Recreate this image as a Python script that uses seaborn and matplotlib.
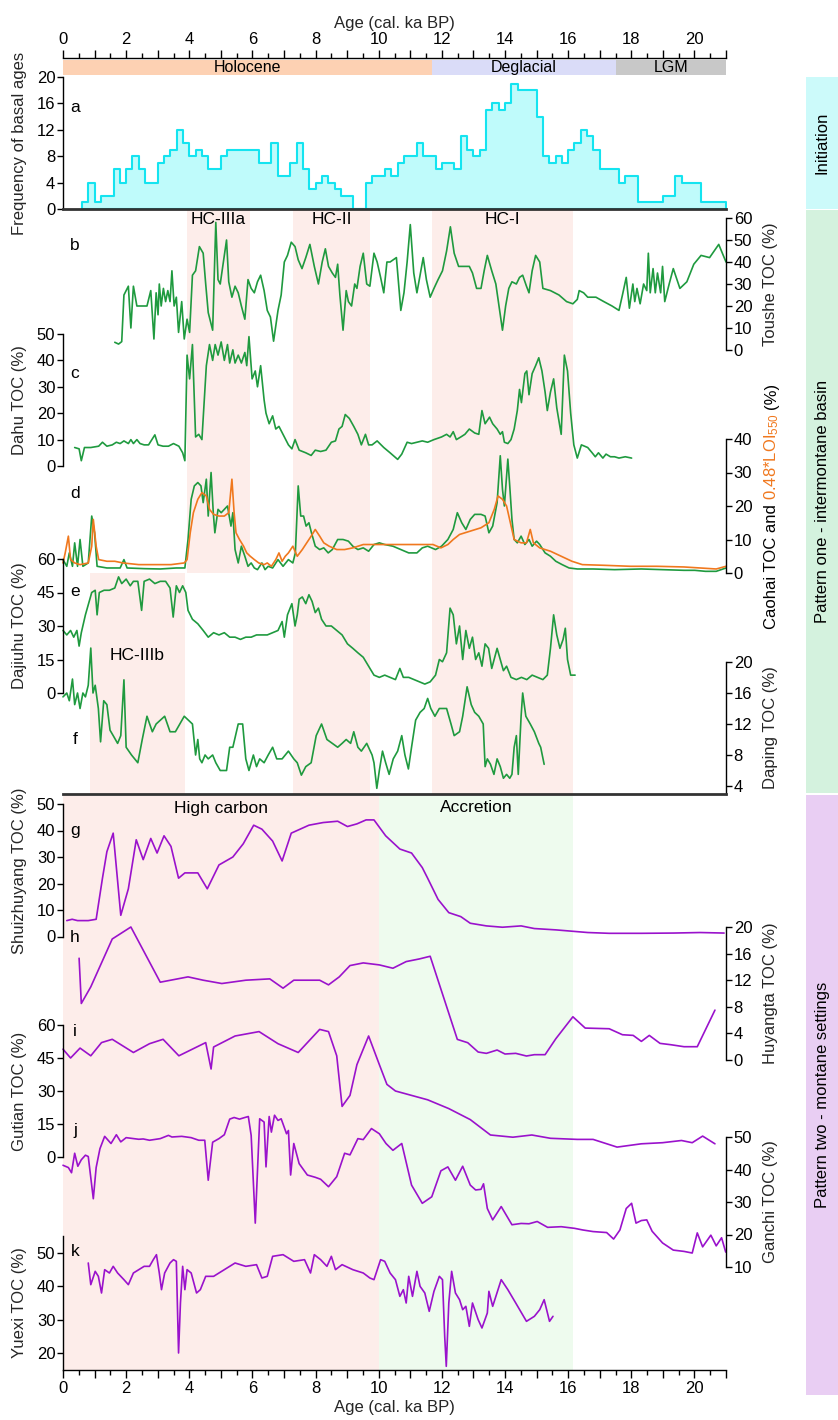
import matplotlib
matplotlib.use("Agg")
import matplotlib.pyplot as plt
from matplotlib import font_manager
from matplotlib.ticker import MultipleLocator, FuncFormatter
import numpy as np
import pandas as pd
import seaborn as sns

# ---------------------------------------------------------------- data
PERIOD_NAMES = ["Holocene", "Deglacial", "LGM"]
PERIOD_START = [0.0, 11.7, 17.5]
PERIOD_END = [11.7, 17.5, 21.0]

# basal-age histogram (0.2 ka bins, start of each run of equal counts)
HIST_START = [0.6, 0.8, 1.0, 1.2, 1.6, 1.8, 2.0, 2.2, 2.4, 2.6,
              3.0, 3.2, 3.4, 3.6, 3.8, 4.0, 4.2, 4.4, 4.6, 5.0,
              5.2, 6.2, 6.6, 6.8, 7.2, 7.4, 7.6, 7.8, 8.0, 8.2,
              8.4, 8.6, 8.8, 9.2, 9.6, 9.8, 10.2, 10.4, 10.6, 10.8,
              11.2, 11.4, 11.8, 12.0, 12.4, 12.6, 12.8, 13.0, 13.2, 13.4,
              13.6, 13.8, 14.0, 14.2, 14.4, 15.0, 15.2, 15.4, 15.6, 15.8,
              16.0, 16.2, 16.4, 16.6, 16.8, 17.0, 17.6, 17.8, 18.2, 19.0,
              19.4, 19.6, 20.2]
HIST_COUNT = [1, 4, 1, 2, 6, 4, 6, 8, 6, 4,
              7, 8, 9, 12, 10, 8, 9, 8, 6, 8,
              9, 7, 10, 5, 7, 10, 6, 3, 4, 5,
              4, 3, 2, 0, 4, 5, 6, 5, 7, 8,
              10, 8, 6, 7, 6, 11, 9, 8, 9, 15,
              16, 15, 16, 19, 18, 14, 8, 7, 8, 7,
              9, 10, 12, 11, 9, 6, 4, 5, 1, 2,
              5, 4, 1]
HIST_END = 21.0

TOUSHE_AGE = [1.64, 1.76, 1.86, 1.93, 2.07, 2.15, 2.23, 2.34, 2.66, 2.78,
              2.88, 2.95, 3.01, 3.05, 3.11, 3.18, 3.25, 3.32, 3.39, 3.45,
              3.52, 3.59, 3.66, 3.76, 3.84, 3.93, 4.01, 4.10, 4.20, 4.32,
              4.44, 4.52, 4.60, 4.74, 4.84, 4.91, 4.98, 5.08, 5.18, 5.25,
              5.35, 5.45, 5.55, 5.65, 5.76, 5.86, 5.96, 6.06, 6.16, 6.26,
              6.37, 6.47, 6.57, 6.67, 6.81, 6.91, 7.01, 7.11, 7.23, 7.35,
              7.45, 7.57, 7.69, 7.82, 7.96, 8.09, 8.21, 8.31, 8.41, 8.53,
              8.63, 8.70, 8.77, 8.87, 8.97, 9.04, 9.14, 9.24, 9.31, 9.41,
              9.51, 9.62, 9.72, 9.85, 9.95, 10.06, 10.16, 10.26, 10.36, 10.46,
              10.56, 10.70, 10.80, 10.90, 11.00, 11.11, 11.21, 11.31, 11.41, 11.51,
              11.63, 11.75, 11.88, 12.02, 12.15, 12.27, 12.39, 12.53, 12.66, 12.87,
              12.97, 13.10, 13.24, 13.34, 13.44, 13.58, 13.71, 13.81, 13.92, 14.02,
              14.12, 14.22, 14.36, 14.46, 14.56, 14.68, 14.76, 14.86, 14.97, 15.10,
              15.20, 15.44, 15.71, 15.95, 16.15, 16.29, 16.35, 16.49, 16.62, 16.88,
              17.13, 17.39, 17.61, 17.72, 17.84, 17.94, 18.05, 18.11, 18.18, 18.28,
              18.39, 18.49, 18.54, 18.60, 18.69, 18.76, 18.83, 18.93, 18.99, 19.06,
              19.20, 19.33, 19.54, 19.76, 19.98, 20.21, 20.48, 20.77, 21.0]
TOUSHE_TOC = [3.5, 2.7, 3.8, 25, 29, 10, 29, 20, 20, 27,
              5, 26, 16, 30, 20, 28, 22, 27, 22, 36,
              20, 24, 8, 22, 5, 14, 8, 34, 36, 47,
              44, 30, 17, 9, 58, 32, 30, 40, 50, 31,
              24, 29, 26, 20, 14, 32, 28, 26, 31, 34,
              27, 18, 15, 4, 18, 25, 40, 43, 49, 47,
              41, 37, 42, 48, 38, 30, 40, 46, 38, 35,
              33, 39, 25, 9, 27, 22, 20, 30, 28, 38,
              44, 30, 29, 44, 40, 33, 26, 40, 40, 41,
              42, 18, 26, 40, 57, 35, 26, 34, 42, 32,
              24, 28, 32, 36, 45, 56, 44, 38, 38, 38,
              35, 28, 28, 36, 43, 36, 30, 20, 9, 20,
              28, 31, 30, 33, 34, 29, 26, 36, 43, 40,
              28, 27, 25, 22, 21, 23, 27, 26, 24, 24,
              22, 20, 18, 25, 33, 19, 30, 22, 28, 21,
              30, 27, 44, 26, 37, 26, 35, 26, 38, 22,
              30, 37, 28, 31, 39, 43, 42, 48, 40]

DAHU_AGE = [0.37, 0.51, 0.58, 0.68, 0.88, 1.13, 1.25, 1.39, 1.56, 1.69,
            1.81, 1.93, 2.07, 2.15, 2.23, 2.34, 2.44, 2.57, 2.71, 2.91,
            3.01, 3.17, 3.34, 3.50, 3.67, 3.79, 3.86, 3.93, 4.01, 4.10,
            4.20, 4.30, 4.40, 4.54, 4.64, 4.74, 4.82, 4.91, 5.01, 5.11,
            5.21, 5.28, 5.38, 5.45, 5.55, 5.65, 5.76, 5.82, 5.89, 5.99,
            6.09, 6.16, 6.26, 6.37, 6.43, 6.53, 6.64, 6.74, 6.84, 6.97,
            7.14, 7.25, 7.35, 7.48, 7.69, 7.86, 7.99, 8.16, 8.33, 8.50,
            8.63, 8.74, 8.84, 8.94, 9.07, 9.21, 9.34, 9.45, 9.58, 9.68,
            9.79, 9.95, 10.16, 10.36, 10.60, 10.73, 10.90, 11.04, 11.21, 11.38,
            11.55, 11.75, 11.99, 12.15, 12.26, 12.36, 12.46, 12.60, 12.73, 12.87,
            13.04, 13.17, 13.27, 13.37, 13.51, 13.61, 13.75, 13.85, 13.92, 13.98,
            14.09, 14.19, 14.29, 14.39, 14.46, 14.52, 14.63, 14.69, 14.76, 14.86,
            14.97, 15.07, 15.17, 15.27, 15.34, 15.44, 15.54, 15.64, 15.78, 15.88,
            15.98, 16.08, 16.18, 16.29, 16.42, 16.62, 16.76, 16.86, 16.96, 17.10,
            17.20, 17.34, 17.47, 17.61, 17.81, 18.01]
DAHU_TOC = [7, 6.5, 2, 7, 7, 7.5, 9, 7.5, 8, 9,
            8.5, 9.5, 8.5, 10, 8.5, 10, 8.5, 8, 8, 11.8,
            8, 7.5, 7.5, 8.5, 7.5, 5, 2, 42, 33, 46,
            11, 12, 10, 38, 46, 40, 46, 42, 47, 40,
            46, 39, 44, 39, 42, 39, 43, 38, 49, 33,
            36, 30, 38, 25, 20, 16, 19, 14, 15, 12,
            8, 6.5, 10, 6, 5, 4, 6, 5.5, 6, 9,
            9.5, 14, 15, 19.5, 18, 15, 12, 8, 12, 8,
            8, 9.5, 7, 5, 2.5, 4.5, 9, 8.5, 9, 9.5,
            9, 10, 11, 12, 11, 13, 10, 11, 12, 14,
            12.5, 12, 21, 16, 18.5, 16, 14, 12, 13, 9,
            8.5, 10, 14, 21, 29, 24, 35, 36, 27, 35,
            38, 41, 36, 28, 21, 28, 33, 22, 12, 42,
            36, 20, 8, 3, 8, 7, 5, 3.5, 5, 3,
            4.5, 3.5, 3.5, 3, 3.5, 3]

CAOHAI_AGE = [0.0, 0.12, 0.2, 0.3, 0.37, 0.46, 0.54, 0.63, 0.8, 0.91,
              1.0, 1.08, 1.39, 1.81, 1.93, 2.03, 2.57, 3.08, 3.59, 3.86,
              3.96, 4.06, 4.16, 4.27, 4.37, 4.44, 4.54, 4.6, 4.69, 4.76,
              4.81, 4.91, 5.01, 5.11, 5.21, 5.32, 5.38, 5.45, 5.55, 5.65,
              5.76, 5.86, 5.96, 6.06, 6.16, 6.3, 6.4, 6.5, 6.64, 6.81,
              6.97, 7.14, 7.28, 7.36, 7.45, 7.53, 7.62, 7.7, 7.79, 7.87,
              7.99, 8.13, 8.26, 8.4, 8.53, 8.7, 8.87, 9.04, 9.18, 9.34,
              9.51, 9.68, 9.85, 10.02, 10.19, 10.45, 10.7, 10.95, 11.21, 11.38,
              11.55, 11.8, 11.99, 12.19, 12.36, 12.49, 12.63, 12.76, 12.9, 13.04,
              13.24, 13.37, 13.49, 13.61, 13.75, 13.85, 13.92, 13.98, 14.09, 14.15,
              14.22, 14.29, 14.39, 14.51, 14.63, 14.76, 14.86, 15.0, 15.1, 15.27,
              15.44, 15.61, 15.81, 16.03, 16.29, 16.79, 17.47, 18.32, 18.99, 19.67,
              20.01, 20.35, 20.69, 21.0]
CAOHAI_TOC = [4, 2, 6, 2, 9, 2, 10, 2, 3, 17,
              12, 2, 1.5, 1.5, 4, 1.5, 1.3, 1.2, 1.5, 1.5,
              10, 22, 26, 27, 26, 21, 28, 17, 30, 18,
              12, 19, 18, 19, 20, 14, 18, 7, 3, 8,
              5, 2, 3, 1.5, 1, 3, 1, 2, 1.5, 4,
              2, 4, 3, 6, 26, 17, 17, 14, 15, 12,
              8, 7, 7.5, 6, 7, 10, 10, 9.5, 8, 7,
              7.5, 6.5, 8.5, 9, 8.5, 8, 7, 6, 6, 7.5,
              8, 7, 8, 10, 13, 18, 15, 13, 16, 17.5,
              17.5, 17, 12, 14, 21, 35, 25, 20, 34, 26,
              16, 10, 9, 11, 8.5, 10, 8, 9.5, 8.5, 6,
              5, 3.5, 2.5, 1.5, 1.2, 1.2, 1.0, 1.2, 1.0, 0.8,
              0.8, 0.5, 0.5, 1.5]

CAOHAI_LOI_AGE = [0.0, 0.07, 0.17, 0.24, 0.37, 0.54, 0.8, 0.91, 0.96, 1.05,
                  1.13, 1.39, 1.64, 1.9, 2.4, 2.91, 3.42, 3.84, 3.93, 4.03,
                  4.13, 4.27, 4.4, 4.54, 4.64, 4.77, 4.94, 5.11, 5.25, 5.35,
                  5.42, 5.48, 5.59, 5.72, 5.82, 5.93, 6.06, 6.2, 6.37, 6.47,
                  6.6, 6.74, 6.84, 6.94, 7.04, 7.14, 7.28, 7.42, 7.58, 7.72,
                  7.86, 7.99, 8.13, 8.26, 8.43, 8.67, 8.92, 9.18, 9.51, 9.85,
                  10.36, 10.87, 11.38, 11.72, 11.97, 12.19, 12.36, 12.56, 12.9, 13.24,
                  13.49, 13.66, 13.78, 13.92, 14.05, 14.17, 14.29, 14.51, 14.68, 14.8,
                  14.9, 15.1, 15.44, 15.78, 16.12, 16.45, 17.13, 17.98, 18.82, 19.67,
                  20.18, 20.69, 21.0]
CAOHAI_LOI = [3, 6, 11, 4, 3, 2.5, 3, 8, 16, 8,
              4, 3.5, 3.5, 3, 2.5, 2.5, 2.5, 3, 4, 12,
              18, 22, 24, 23, 19, 17.5, 17, 17, 18, 28,
              18, 12, 10, 8, 6, 5, 4, 3, 2.5, 3,
              2, 4, 6, 3.5, 5, 6, 8, 5, 7, 9,
              11, 13, 11, 9, 8, 7, 7, 7.5, 8.5, 8.5,
              8.5, 8.5, 8.5, 8.5, 7.5, 8.5, 10, 11.5, 12.5, 13.5,
              15, 19, 23, 22, 20, 15, 10, 9, 9, 13,
              9, 7.5, 6.5, 5, 3.5, 2.5, 2.3, 2.0, 2.0, 1.8,
              1.5, 1.2, 2]

DAJIUHU_AGE = [0.0, 0.12, 0.24, 0.34, 0.44, 0.51, 0.58, 0.71, 0.85, 0.91,
               1.02, 1.08, 1.15, 1.3, 1.47, 1.64, 1.76, 1.86, 2.0, 2.13,
               2.23, 2.37, 2.49, 2.57, 2.74, 2.91, 3.08, 3.25, 3.39, 3.49,
               3.59, 3.69, 3.79, 3.89, 3.96, 4.1, 4.27, 4.44, 4.6, 4.77,
               4.94, 5.11, 5.28, 5.45, 5.62, 5.79, 5.96, 6.13, 6.3, 6.47,
               6.64, 6.81, 6.94, 7.01, 7.11, 7.25, 7.35, 7.42, 7.48, 7.58,
               7.69, 7.79, 7.89, 7.99, 8.09, 8.19, 8.33, 8.5, 8.67, 8.84,
               9.01, 9.18, 9.34, 9.51, 9.68, 9.85, 10.02, 10.19, 10.36, 10.53,
               10.67, 10.78, 10.95, 11.12, 11.29, 11.46, 11.63, 11.8, 11.92, 12.02,
               12.15, 12.26, 12.36, 12.46, 12.56, 12.66, 12.76, 12.87, 12.97, 13.07,
               13.17, 13.27, 13.37, 13.48, 13.58, 13.75, 13.85, 13.95, 14.05, 14.19,
               14.36, 14.52, 14.69, 14.86, 15.03, 15.2, 15.34, 15.44, 15.54, 15.64,
               15.74, 15.84, 15.91, 15.98, 16.08, 16.22]
DAJIUHU_TOC = [28, 26, 28, 25, 28, 21, 27, 35, 42, 45,
               46, 35, 45, 46, 46, 47, 52, 49, 51, 48,
               50, 50, 37, 50, 51, 49, 50, 50, 47, 34,
               48, 45, 48, 45, 37, 33, 31, 28, 25, 27,
               26, 27, 25, 25, 24, 25, 25, 26, 26, 26,
               27, 28, 32, 25, 35, 40, 30, 35, 42, 43,
               40, 44, 41, 36, 38, 33, 30, 30, 28, 26,
               22, 20, 18, 16, 12, 8, 7, 8, 7, 6,
               11, 7, 7, 6, 5, 4, 5, 8, 15, 14,
               18, 38, 35, 22, 30, 15, 28, 20, 25, 15,
               18, 12, 22, 20, 11, 20, 15, 10, 12, 7,
               6, 7, 6, 8, 7, 6, 8, 20, 35, 26,
               20, 24, 29, 15, 8, 8]

DAPING_AGE = [0.0, 0.12, 0.2, 0.3, 0.37, 0.46, 0.54, 0.63, 0.71, 0.8,
              0.88, 0.95, 1.02, 1.12, 1.19, 1.29, 1.39, 1.49, 1.59, 1.73,
              1.83, 1.93, 2.0, 2.17, 2.37, 2.51, 2.66, 2.83, 2.95, 3.22,
              3.39, 3.56, 3.84, 4.1, 4.2, 4.27, 4.33, 4.4, 4.5, 4.6,
              4.74, 4.84, 4.98, 5.18, 5.28, 5.38, 5.55, 5.69, 5.79, 5.89,
              6.03, 6.13, 6.23, 6.37, 6.5, 6.64, 6.77, 6.94, 7.14, 7.31,
              7.42, 7.55, 7.69, 7.86, 8.02, 8.19, 8.36, 8.53, 8.7, 8.84,
              8.97, 9.11, 9.21, 9.34, 9.45, 9.62, 9.79, 9.85, 9.94, 10.02,
              10.12, 10.22, 10.33, 10.46, 10.6, 10.73, 10.83, 10.94, 11.04, 11.17,
              11.31, 11.44, 11.55, 11.65, 11.78, 11.92, 12.15, 12.29, 12.39, 12.56,
              12.66, 12.8, 12.93, 13.04, 13.17, 13.31, 13.37, 13.44, 13.54, 13.65,
              13.75, 13.85, 13.95, 14.05, 14.15, 14.22, 14.29, 14.36, 14.42, 14.51,
              14.56, 14.66, 14.8, 14.93, 15.07, 15.13, 15.24]
DAPING_TOC = [15.5, 16, 15, 17.8, 14.5, 16, 14, 16, 15.5, 17,
              21.8, 16, 17, 14, 9.7, 15, 14.5, 11.2, 10.5, 9.5,
              10.5, 17.7, 9, 8, 7, 10, 13, 11, 12, 13,
              11, 11, 13, 12, 8, 10, 7.5, 7, 8, 7.5,
              8, 7, 6, 6, 9, 9, 12, 12, 7.5, 6,
              8, 6.5, 7.5, 7, 8, 9, 7.5, 7.5, 8.5, 7.5,
              7, 5.4, 6.5, 7, 10.5, 12, 10, 9.5, 9, 9.5,
              10, 9.5, 11, 9, 8.5, 9.5, 8, 7, 3.7, 6,
              8.5, 7, 5.5, 7.5, 8.5, 10.5, 8, 6.2, 9, 12.5,
              13.5, 14, 15.3, 14, 13, 14, 14, 12, 10.5, 11,
              13, 16.8, 14.5, 13.5, 13, 12, 6.5, 7.5, 6.8, 5.5,
              7.5, 6.5, 5, 5.5, 5, 5.5, 9, 10.5, 5.5, 13,
              16, 13, 12, 11, 9.5, 9, 6.8]

# pattern two (montane settings) records
SHUIZHUYANG_AGE = [0.12, 0.29, 0.46, 0.8, 1.05, 1.25, 1.39, 1.59, 1.83, 2.07,
                   2.32, 2.54, 2.78, 2.98, 3.2, 3.42, 3.66, 3.86, 4.27, 4.57,
                   4.94, 5.38, 5.71, 6.04, 6.3, 6.64, 6.94, 7.23, 7.79, 8.24,
                   8.7, 9.01, 9.31, 9.6, 9.85, 10.22, 10.67, 11.04, 11.38, 11.55,
                   11.88, 12.22, 12.6, 12.9, 13.41, 13.92, 14.51, 14.93, 15.61, 16.62,
                   17.3, 18.32, 19.33, 20.18, 20.94]
SHUIZHUYANG_TOC = [6, 6.5, 6, 6, 6.5, 22, 32, 39, 8, 18,
                   36.5, 29, 37, 31.5, 38, 34, 22, 24, 24, 18,
                   27, 30, 35, 42, 40.5, 36, 28.5, 39, 42, 43,
                   43.5, 41.5, 42.5, 44, 44, 38, 33, 31.5, 26, 22,
                   14, 9, 7.5, 5, 4, 3.5, 4, 3, 2.5, 1.5,
                   1.2, 1.2, 1.3, 1.5, 1.3]

HUYANGTA_AGE = [0.51, 0.58, 0.88, 1.56, 2.15, 3.08, 3.96, 4.44, 5.03, 5.79,
                6.55, 6.97, 7.31, 8.13, 8.41, 8.75, 9.09, 9.51, 10.02, 10.45,
                10.87, 11.29, 11.63, 12.49, 12.82, 13.15, 13.41, 13.75, 14.0,
                14.34, 14.68, 14.93, 15.27, 15.61, 16.15, 16.54, 17.3, 17.72, 18.06,
                18.32, 18.57, 18.91, 19.25, 19.67, 20.09, 20.65]
HUYANGTA_TOC = [15.3, 8.5, 11, 18.2, 20, 11.7, 12.5, 12, 11.5, 12,
                12.2, 10.8, 12, 12, 11.3, 12.5, 14.2, 14.6, 14.3, 13.8,
                14.8, 15.2, 15.6, 3.1, 2.6, 1.2, 1.0, 1.5, 0.9,
                1.0, 0.6, 0.8, 0.8, 3.2, 6.5, 4.8, 4.7, 3.8, 3.7,
                2.8, 3.7, 2.5, 2.3, 2, 2, 7.5]

GUTIAN_AGE = [0.0, 0.24, 0.54, 0.88, 1.22, 1.56, 2.23, 2.74, 3.17, 3.67,
              4.52, 4.69, 4.77, 5.45, 6.21, 6.81, 7.45, 8.13, 8.41, 8.67,
              8.84, 9.09, 9.31, 9.68, 10.02, 10.26, 10.53, 11.55, 12.22, 12.9,
              13.54, 14.25, 14.85, 15.44, 16.29, 16.79, 17.55, 18.32, 18.99, 19.59,
              19.93, 20.26, 20.65]
GUTIAN_TOC = [49, 45, 49.5, 46, 52, 53.5, 47.5, 51.5, 53.5, 46,
              52, 40, 50, 55, 57, 51.5, 47.5, 58, 57, 46,
              23, 28, 42, 55, 42, 33, 30, 26, 22, 17,
              10, 9, 10, 8.5, 8, 8, 4.5, 6, 6.5, 7.5,
              6.5, 9.5, 6]

GANCHI_AGE = [0.0, 0.17, 0.27, 0.37, 0.47, 0.58, 0.71, 0.8, 0.96, 1.05,
              1.17, 1.32, 1.52, 1.69, 1.83, 2.0, 2.4, 2.54, 2.74, 3.08,
              3.34, 3.45, 3.76, 4.06, 4.3, 4.49, 4.6, 4.74, 4.94, 5.11,
              5.28, 5.42, 5.59, 5.76, 5.87, 5.96, 6.09, 6.23, 6.37, 6.43,
              6.53, 6.6, 6.7, 6.81, 6.91, 6.97, 7.08, 7.14, 7.21, 7.31,
              7.48, 7.74, 7.99, 8.16, 8.41, 8.67, 8.92, 9.09, 9.34, 9.51,
              9.77, 10.02, 10.23, 10.45, 10.73, 11.04, 11.38, 11.68, 11.97, 12.19,
              12.43, 12.66, 12.9, 13.07, 13.24, 13.32, 13.44, 13.61, 13.88, 14.22,
              14.51, 14.76, 15.02, 15.35, 15.78, 16.2, 16.46, 16.79, 17.22, 17.44,
              17.64, 17.84, 18.01, 18.15, 18.32, 18.49, 18.66, 18.99, 19.33, 19.67,
              19.93, 20.09, 20.26, 20.52, 20.69, 20.86, 20.99]
GANCHI_TOC = [41.3, 40.6, 39, 45, 41, 43, 44.4, 44, 31, 40.6,
              46.4, 50.2, 48, 50.7, 48.5, 49.8, 49.3, 49.4, 49, 49.5,
              50.5, 50, 50.2, 49.8, 49, 49, 36.7, 48.4, 49.5, 50.7,
              55.5, 56, 55.5, 56, 56.3, 50.5, 23.5, 55.6, 54.6, 40.8,
              56.3, 51.5, 56.7, 55.1, 55.6, 54, 51, 52, 38.3, 48,
              41.8, 38.3, 37.6, 37, 34.7, 37.8, 45, 44.5, 49.5, 49.2,
              52.6, 51, 48, 45.9, 48, 35.2, 29.6, 31.6, 39.6, 40.8,
              36.7, 41, 35.2, 33.7, 33.9, 35.6, 28, 24.5, 28.6, 23,
              23.4, 23.3, 24, 22.2, 22.4, 21.9, 21.4, 20.9, 20.6, 18.6,
              21.4, 28, 29.6, 23.5, 24.3, 24.5, 21, 17.4, 15.2, 14.8,
              14.3, 20.5, 16.2, 19.8, 16.5, 19, 14.6]

YUEXI_AGE = [0.8, 0.88, 1.02, 1.12, 1.22, 1.32, 1.47, 1.59, 1.73, 1.93,
             2.07, 2.23, 2.4, 2.57, 2.74, 2.86, 2.96, 3.05, 3.12, 3.22,
             3.39, 3.5, 3.59, 3.66, 3.72, 3.79, 3.86, 3.93, 4.06, 4.23,
             4.35, 4.52, 4.77, 5.11, 5.45, 5.79, 6.13, 6.3, 6.47, 6.64,
             6.97, 7.31, 7.65, 7.84, 7.96, 8.16, 8.36, 8.5, 8.63, 8.84,
             9.18, 9.51, 9.72, 9.85, 10.06, 10.19, 10.36, 10.53, 10.67, 10.78,
             10.87, 10.95, 11.07, 11.21, 11.31, 11.46, 11.6, 11.75, 11.92, 12.02,
             12.09, 12.14, 12.22, 12.31, 12.43, 12.56, 12.66, 12.76, 12.87, 12.97,
             13.15, 13.27, 13.44, 13.49, 13.61, 13.88, 14.09, 14.34, 14.68, 14.93,
             15.1, 15.24, 15.41, 15.52]
YUEXI_TOC = [47, 40.5, 44.5, 43, 38, 45, 44, 46, 44, 42,
             40.5, 44, 45, 46, 46, 48, 49.5, 44, 39, 44,
             47, 48, 47.5, 20, 35, 46, 39, 45, 44, 38,
             39, 43, 43, 45, 47, 46, 46.5, 42.5, 43, 49,
             49.5, 47.5, 48, 44, 49.5, 48, 46, 49, 45, 46.5,
             45, 44, 42.5, 42, 48, 47.5, 44, 42, 37, 39,
             35, 43, 37, 44.5, 40, 38, 32.5, 38.5, 43, 42,
             25, 16, 35, 44.5, 38, 36, 33, 34, 28, 35,
             30, 27.5, 32, 38.5, 34, 42, 39, 35, 29.5, 31,
             33, 36, 29.5, 31]

# shaded high-carbon intervals
HC_NAMES = ["HC-IIIa", "HC-II", "HC-I", "HC-IIIb"]
HC_START = [3.93, 7.30, 11.70, 0.85]
HC_END = [5.92, 9.73, 16.15, 3.85]
PHASE_NAMES = ["High carbon", "Accretion"]
PHASE_START = [0.0, 10.0]
PHASE_END = [10.0, 16.15]

STAGE_NAMES = ["Initiation", "Pattern one - intermontane basin",
               "Pattern two - montane settings"]

# ---------------------------------------------------------------- style
W, H = 838, 1420          # figure size in pixels
L, R = 63, 726            # left / right edge of the plotting column
XMAX = 21.0

GREEN = "#1F9A3F"
ORANGE = "#F0781E"
PURPLE = "#9A12CC"
CYAN_LINE = "#14E4F0"
CYAN_FILL = "#BFFBFB"
PINK = "#FDEDEA"
MINT = "#EEFBEE"
PERIOD_COLORS = ["#FDD1B3", "#DADCF8", "#C8C8C8"]
STAGE_COLORS = ["#CCFAFA", "#D4F2DE", "#E9CEF3"]
DARK = "#333333"

sns.set_theme(style="ticks")
_names = {f.name for f in font_manager.fontManager.ttflist}
FONT = "Liberation Sans" if "Liberation Sans" in _names else "DejaVu Sans"
plt.rcParams["font.family"] = [FONT, "DejaVu Sans"]
plt.rcParams["mathtext.fontset"] = "custom"
plt.rcParams["mathtext.rm"] = FONT
plt.rcParams["mathtext.it"] = FONT + ":italic"
plt.rcParams["mathtext.bf"] = FONT + ":bold"
plt.rcParams["axes.linewidth"] = 1.0
plt.rcParams["text.color"] = "black"

FS = 12

fig = plt.figure(figsize=(W / 100, H / 100), dpi=100)
fig.patch.set_facecolor("white")


def rect(top, bot, left=L, right=R):
    return [left / W, 1 - bot / H, (right - left) / W, (bot - top) / H]


def add_panel(v_top, y_top, v_bot, y_bot, ext_top=None, ext_bot=None):
    """Axes whose value v_top sits at pixel row y_top and v_bot at y_bot."""
    per = (y_bot - y_top) / (v_top - v_bot)
    t = y_top if ext_top is None else ext_top
    b = y_bot if ext_bot is None else ext_bot
    ax = fig.add_axes(rect(t, b))
    ax.set_facecolor("none")
    ax.set_xlim(0, XMAX)
    ax.set_ylim(v_bot - (b - y_bot) / per, v_top + (y_top - t) / per)
    return ax


def style_panel(ax, side, ticks, label):
    for s in ax.spines.values():
        s.set_visible(False)
    ax.spines[side].set_visible(True)
    ax.spines[side].set_color("black")
    ax.spines[side].set_linewidth(1.0)
    ax.yaxis.set_ticks_position(side)
    ax.yaxis.set_label_position(side)
    ax.set_yticks(ticks)
    ax.tick_params(axis="y", direction="out", length=4, width=1,
                   labelsize=FS, pad=1.5, colors="black")
    ax.set_xticks([])
    ax.set_xlabel("")
    ax.set_ylabel(label, fontsize=FS, va="center")
    x_px = 20 if side == "left" else 770
    ax.yaxis.set_label_coords((x_px - L) / (R - L), 0.5)
    ax.set_xlim(0, XMAX)
    ax.grid(False)


def draw_series(ax, ages, values, color):
    df = pd.DataFrame({"age": ages, "value": values})
    sns.lineplot(data=df, x="age", y="value", ax=ax, color=color,
                 linewidth=1.2, estimator=None, sort=False)
    for ln in ax.lines:
        ln.set_clip_on(False)


def age_axis(ax, where):
    ax.xaxis.set_ticks_position(where)
    ax.xaxis.set_label_position(where)
    ax.spines[where].set_visible(True)
    ax.spines[where].set_color("black")
    ax.xaxis.set_major_locator(MultipleLocator(1))
    ax.xaxis.set_minor_locator(MultipleLocator(0.5))
    ax.xaxis.set_major_formatter(FuncFormatter(
        lambda v, p: f"{int(round(v))}" if int(round(v)) % 2 == 0 else ""))
    ax.tick_params(axis="x", which="major", direction="out", length=6,
                   width=1, labelsize=FS, pad=2, colors="black")
    ax.tick_params(axis="x", which="minor", direction="out", length=3.5,
                   width=1, colors="black")
    ax.set_xlim(0, XMAX)
    ax.set_xlabel("Age (cal. ka BP)", fontsize=FS, labelpad=3)


# ---------------------------------------------------------------- shading
ax_bg = fig.add_axes(rect(0, H))
ax_bg.set_xlim(0, XMAX)
ax_bg.set_ylim(H, 0)
ax_bg.axis("off")

HC_ROWS = [(210, 573), (210, 794), (210, 794), (573, 794)]
HC_LABEL_ROW = [219, 219, 219, 656]
for name, s, e, (top, bot), ly in zip(HC_NAMES, HC_START, HC_END, HC_ROWS, HC_LABEL_ROW):
    ax_bg.fill_between([s, e], top, bot, color=PINK, lw=0)
    ax_bg.text((s + e) / 2, ly, name, ha="center", va="center", fontsize=12.5)

for name, s, e, c in zip(PHASE_NAMES, PHASE_START, PHASE_END, [PINK, MINT]):
    ax_bg.fill_between([s, e], 796, 1370, color=c, lw=0)
    ax_bg.text((s + e) / 2, 808, name, ha="center", va="center", fontsize=12.5)

LETTER_ROWS = [108, 246, 373, 493, 592, 740, 830, 938, 1032, 1131, 1251]
for letter, row in zip("abcdefghijk", LETTER_ROWS):
    ax_bg.text(0.38, row, letter, ha="center", va="center", fontsize=12.5)

# ---------------------------------------------------------------- top age axis + periods
ax_top = fig.add_axes(rect(58, 75))
ax_top.set_facecolor("none")
ax_top.barh([0.44] * 3, np.subtract(PERIOD_END, PERIOD_START), left=PERIOD_START,
            height=0.88, color=PERIOD_COLORS, linewidth=0)
for name, s, e in zip(PERIOD_NAMES, PERIOD_START, PERIOD_END):
    ax_top.text((s + e) / 2, 0.44, name, ha="center", va="center", fontsize=11.5)
for s in ax_top.spines.values():
    s.set_visible(False)
ax_top.set_ylim(0, 1)
ax_top.set_yticks([])
age_axis(ax_top, "top")

# ---------------------------------------------------------------- a: basal ages
ax_a = add_panel(20, 77, 0, 209)
sns.histplot(x=HIST_START, weights=HIST_COUNT, bins=HIST_START + [HIST_END],
             element="step", fill=True, color=CYAN_LINE, alpha=1, linewidth=1.5,
             ax=ax_a)
for coll in ax_a.collections:
    coll.set_facecolor(CYAN_FILL)
    coll.set_edgecolor(CYAN_LINE)
style_panel(ax_a, "left", [0, 4, 8, 12, 16, 20], "Frequency of basal ages")
ax_a.set_ylim(0, 20)
ax_a.spines["bottom"].set_visible(True)
ax_a.spines["bottom"].set_linewidth(2)
ax_a.spines["bottom"].set_color(DARK)

# ---------------------------------------------------------------- b-f: intermontane basin
ax_b = add_panel(60, 218, 0, 350)
draw_series(ax_b, TOUSHE_AGE, TOUSHE_TOC, GREEN)
style_panel(ax_b, "right", range(0, 61, 10), "Toushe TOC (%)")

ax_c = add_panel(50, 334, 0, 466)
draw_series(ax_c, DAHU_AGE, DAHU_TOC, GREEN)
style_panel(ax_c, "left", range(0, 51, 10), "Dahu TOC (%)")

ax_d = add_panel(40, 439, 0, 573)
draw_series(ax_d, CAOHAI_AGE, CAOHAI_TOC, GREEN)
draw_series(ax_d, CAOHAI_LOI_AGE, CAOHAI_LOI, ORANGE)
style_panel(ax_d, "right", range(0, 41, 10), "")

ax_e = add_panel(60, 559, 0, 693)
draw_series(ax_e, DAJIUHU_AGE, DAJIUHU_TOC, GREEN)
style_panel(ax_e, "left", range(0, 61, 15), "Dajiuhu TOC (%)")

ax_f = add_panel(20, 662, 4, 786, ext_bot=794)
draw_series(ax_f, DAPING_AGE, DAPING_TOC, GREEN)
style_panel(ax_f, "right", range(4, 21, 4), "Daping TOC (%)")
ax_f.spines["bottom"].set_visible(True)
ax_f.spines["bottom"].set_linewidth(2)
ax_f.spines["bottom"].set_color(DARK)

# ---------------------------------------------------------------- g-k: montane settings
ax_g = add_panel(50, 804, 0, 936.5)
draw_series(ax_g, SHUIZHUYANG_AGE, SHUIZHUYANG_TOC, PURPLE)
style_panel(ax_g, "left", range(0, 51, 10), "Shuizhuyang TOC (%)")

ax_h = add_panel(20, 927, 0, 1060)
draw_series(ax_h, HUYANGTA_AGE, HUYANGTA_TOC, PURPLE)
style_panel(ax_h, "right", range(0, 21, 4), "Huyangta TOC (%)")

ax_i = add_panel(60, 1025, 0, 1157)
draw_series(ax_i, GUTIAN_AGE, GUTIAN_TOC, PURPLE)
style_panel(ax_i, "left", range(0, 61, 15), "Gutian TOC (%)")

ax_j = add_panel(50, 1137, 10, 1267)
draw_series(ax_j, GANCHI_AGE, GANCHI_TOC, PURPLE)
style_panel(ax_j, "right", range(10, 51, 10), "Ganchi TOC (%)")

ax_k = add_panel(50, 1253, 20, 1353, ext_top=1236, ext_bot=1370)
draw_series(ax_k, YUEXI_AGE, YUEXI_TOC, PURPLE)
style_panel(ax_k, "left", range(20, 51, 10), "Yuexi TOC (%)")
age_axis(ax_k, "bottom")

# ---------------------------------------------------------------- stage column
ax_side = fig.add_axes([806 / W, 0, (W - 806) / W, 1])
ax_side.set_xlim(0, 1)
ax_side.set_ylim(H, 0)
ax_side.axis("off")
STAGE_ROWS = [(77, 209), (210, 793), (795, 1395)]
for name, (top, bot), c in zip(STAGE_NAMES, STAGE_ROWS, STAGE_COLORS):
    ax_side.fill_between([0, 1], top, bot, color=c, lw=0)
    ax_side.text(0.5, (top + bot) / 2, name, rotation=90, ha="center",
                 va="center", fontsize=12)

# ---------------------------------------------------------------- two-colour Caohai label
renderer = fig.canvas.get_renderer()
pieces = [("Caohai TOC and", "black"),
          (r"0.48*LOI$_{\mathregular{550}}$", ORANGE),
          ("(%)", "black")]
texts = []
for txt, col in pieces:
    t = fig.text(0, 0, txt, rotation=90, rotation_mode="anchor", ha="left",
                 va="baseline", color=col, fontsize=FS)
    texts.append(t)
gap = 4.5
lengths = [t.get_window_extent(renderer).height for t in texts]
total = sum(lengths) + gap * (len(lengths) - 1)
y = (439 + 573) / 2 + total / 2
for t, ln in zip(texts, lengths):
    t.set_position((776 / W, 1 - y / H))
    y -= ln + gap

fig.savefig("out.png", dpi=100, facecolor="white")
